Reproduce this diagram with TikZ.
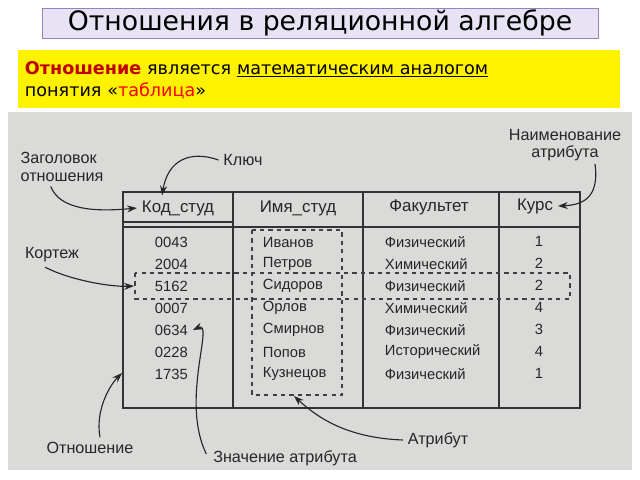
\documentclass[tikz,border=0pt]{standalone}
\usepackage{fontspec}
\setmainfont{DejaVu Sans}
\newfontfamily\tabfont{Liberation Sans}
\usetikzlibrary{arrows.meta, positioning}
\definecolor{titlefill}{RGB}{232, 226, 245}
\definecolor{titleline}{RGB}{150, 130, 190}
\definecolor{scanbg}{RGB}{218, 218, 216}
\definecolor{darkred}{RGB}{190, 0, 0}
\tikzset{
  cell/.style={font=\tabfont\fontsize{10.5}{12}\selectfont, text=black!85},
  head/.style={font=\tabfont\fontsize{12}{13}\selectfont, text=black!85},
  lbl/.style={font=\tabfont\fontsize{11.5}{12.5}\selectfont, align=left, text=black!85},
  pointer/.style={-{Stealth[length=7pt,width=5pt]}, thick, black!85},
  grp/.style={dashed, thick, black!75}
}
\begin{document}
\begin{tikzpicture}[x=0.025cm, y=-0.025cm]
    \useasboundingbox (0,0) rectangle (640,480);
    % Title and definition
    \node[draw=titleline, fill=titlefill, minimum width=13.9cm, minimum height=0.75cm, inner sep=1pt,
          font=\fontsize{19}{21}\selectfont] (title) at (320,23) {Отношения в реляционной алгебре};
    \fill[yellow] (18,50) rectangle (620,108);
    \node[anchor=north west, text width=14.8cm, align=left, font=\fontsize{12.5}{16}\selectfont] (defn) at (20,56)
      {\textcolor{darkred}{\textbf{Отношение}} является \underline{математическим аналогом}\\ понятия «\textcolor{red}{таблица}»};
    % Scanned picture
    \fill[scanbg] (8,112) rectangle (632,470);
    \draw[thick, black!80] (123,192) rectangle (580,408);
    \draw[thick, black!80] (123,222) -- (233,222);
    \draw[thick, black!80] (123,227) -- (580,227);
    \draw[thick, black!80] (233,192) -- (233,408);
    \draw[thick, black!80] (363,192) -- (363,408);
    \draw[thick, black!80] (499,192) -- (499,408);
    % Header
    \node[head] (h1) at (178,208) {Код\_студ};
    \node[head] (h2) at (298,208) {Имя\_студ};
    \node[head] (h3) at (429,207) {Факультет};
    \node[head] (h4) at (535,206) {Курс};
    % Rows
    \foreach \k/\n/\f/\c [count=\i] in {0043/Иванов/Физический/1, 2004/Петров/Химический/2,
        5162/Сидоров/Физический/2, 0007/Орлов/Химический/4, 0634/Смирнов/Физический/3,
        0228/Попов/Исторический/4, 1735/Кузнецов/Физический/1} {
      \node[cell, anchor=west] (k\i) at (150,{220+22*\i}) {\k};
      \node[cell, anchor=west] (n\i) at (258,{220+22*\i}) {\n};
      \node[cell, anchor=west] (f\i) at (380,{220+22*\i}) {\f};
      \node[cell] (c\i) at (539,{219+22*\i}) {\c};
    }
    % Attribute and tuple frames
    \draw[grp] (252,230) rectangle (342,395);
    \coordinate (attr) at (294,396);
    \draw[grp] (135,273) rectangle (570,299);
    % Labels
    \node[lbl] (key) at (243,160) {Ключ};
    \node[lbl] (hdr) at (62,167) {Заголовок\\отношения};
    \node[lbl, align=center] (aname) at (565,145) {Наименование\\атрибута};
    \node[lbl] (tuple) at (52,255) {Кортеж};
    \node[lbl] (rel) at (90,448) {Отношение};
    \node[lbl] (aval) at (285,458) {Значение атрибута};
    \node[lbl] (attrl) at (438,440) {Атрибут};
    % Pointers
    \draw[pointer] (key.west) .. controls (190,150) and (168,160) .. (h1.north -| 162,0);
    \draw[pointer] (hdr.south west) ++(35,0) .. controls (60,210) and (95,212) .. (h1.west);
    \draw[pointer] (aname.south) ++(30,-2) .. controls (600,200) and (580,205) .. (h4.east);
    \draw[pointer] (tuple.south west) ++(25,0) .. controls (70,280) and (110,287) .. (k3.west -| 134,0);
    \draw[pointer] (rel.north) ++(10,0) .. controls (95,410) and (110,385) .. (122,373);
    \draw[pointer] (aval.west) ++(-2,-4) .. controls (180,400) and (215,320) .. (k5.east);
    \draw[pointer] (attrl.west) .. controls (350,438) and (320,420) .. (attr);
\end{tikzpicture}
\end{document}
